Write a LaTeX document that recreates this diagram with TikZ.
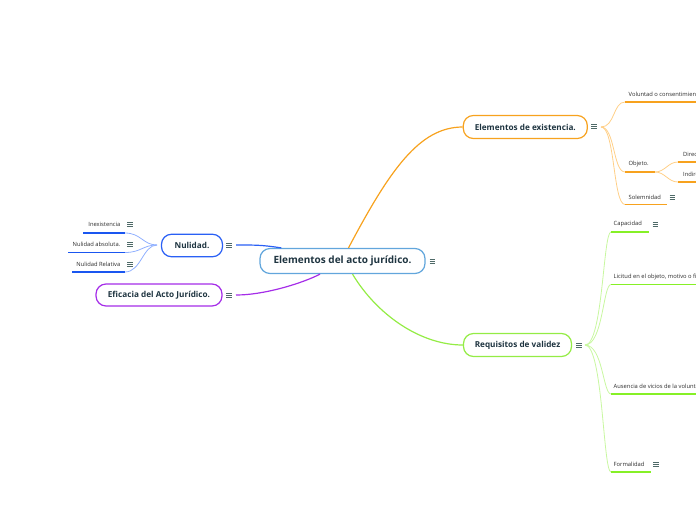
\documentclass[tikz,border=0pt]{standalone}
\usepackage{fontspec}
\setmainfont{Open Sans}
\definecolor{cText}{HTML}{1E3440}
\definecolor{cLeaf}{HTML}{2A2A2A}
\definecolor{cMenu}{HTML}{4F6A68}
\definecolor{cRoot}{HTML}{62A6DC}
\definecolor{cOr}{HTML}{F7A21E}
\definecolor{cOrL}{HTML}{FFCF87}
\definecolor{cGr}{HTML}{94EC45}
\definecolor{cGrU}{HTML}{86F026}
\definecolor{cGrL}{HTML}{C8F7A0}
\definecolor{cBl}{HTML}{2A60F5}
\definecolor{cBlU}{HTML}{1A56F0}
\definecolor{cBlL}{HTML}{90B0FF}
\definecolor{cPu}{HTML}{A52DE8}
\tikzset{
  mainbox/.style={draw, line width=1.2pt, fill=white, rounded corners=10pt, inner sep=0pt,
    minimum height=23pt, text=cText, font=\bfseries\fontsize{8.2}{10}\selectfont},
  menu/.style={inner sep=0pt, minimum width=5.6pt, minimum height=5pt,
    path picture={
      \draw[cMenu, line width=0.75pt]
        ([yshift=-0.45pt]path picture bounding box.north west) -- ([yshift=-0.45pt]path picture bounding box.north east)
        (path picture bounding box.west) -- (path picture bounding box.east)
        ([yshift=0.45pt]path picture bounding box.south west) -- ([yshift=0.45pt]path picture bounding box.south east);
    }},
  leaf/.style={font=\fontsize{5.8}{7}\selectfont, text=cLeaf, inner sep=0pt},
  ul/.style={line width=1.8pt},
  fan/.style={line width=0.8pt},
  mainline/.style={line width=1.2pt}
}
\begin{document}
\begin{tikzpicture}[x=1pt,y=-1pt]
\useasboundingbox (0,0) rectangle (696,520);
\clip (0,0) rectangle (696,520);

\node[mainbox, draw=cRoot, minimum width=165pt, minimum height=25pt,
      font=\bfseries\fontsize{10}{12}\selectfont] (root) at (342.5,261) {Elementos del acto jurídico.};
\node[menu] (rootm) at (432.5,261) {};

\node[mainbox, draw=cOr, minimum width=124pt] (exi) at (525.3,127) {Elementos de existencia.};
\node[menu] (exim) at (594,126.5) {};
\node[mainbox, draw=cGr, minimum width=108pt] (req) at (517.5,345) {Requisitos de validez};
\node[menu] (reqm) at (579,345) {};
\node[mainbox, draw=cBl, minimum width=61pt, minimum height=22.5pt] (nul) at (192,245.5) {Nulidad.};
\node[menu] (nulm) at (229,245) {};
\node[mainbox, draw=cPu, minimum width=126pt, minimum height=22pt] (efi) at (159,295) {Eficacia del Acto Jurídico.};
\node[menu] (efim) at (229,295) {};

\draw[mainline, cOr] ([xshift=6pt]root.north) .. controls +(41.5,-78.5) and +(-43,0) .. (exi.west);
\draw[mainline, cGr] ([xshift=10pt]root.south) .. controls +(24,40) and +(-43,0) .. (req.west);
\draw[mainline, cBl] ([xshift=4pt]nulm.east) .. controls +(20,0) and +(-20,-3) .. ([xshift=22pt]root.north west);
\draw[mainline, cPu] ([xshift=4pt]efim.east) .. controls +(30,0) and +(-15,8) .. ([xshift=-22.5pt]root.south);

% ---- Elementos de existencia: leaves
\coordinate (exo) at (601,127);
\node[leaf, anchor=west] (vol) at (628.5,94) {Voluntad o consentimiento};
\coordinate (vol-s) at (625,102); \coordinate (vol-e) at (700,102);
\node[leaf, anchor=west] (obj) at (628.5,164) {Objeto.};
\coordinate (obj-s) at (625,172); \coordinate (obj-e) at (655,172);
\node[leaf, anchor=west] (dir) at (683,154) {Directo};
\coordinate (dir-s) at (678,162); \coordinate (dir-e) at (700,162);
\node[leaf, anchor=west] (ind) at (683,174) {Indirecto};
\coordinate (ind-s) at (678,182); \coordinate (ind-e) at (700,182);
\node[leaf, anchor=west] (sol) at (628.5,197) {Solemnidad};
\node[menu] (solm) at (672.5,197) {};
\coordinate (sol-s) at (625,204.5); \coordinate (sol-e) at (667,204.5);

\foreach \a in {vol,obj,sol}{\draw[fan, cOrL] (exo) .. controls +(14,0) and +(-12,0) .. (\a-s);}
\foreach \a in {dir,ind}{\draw[fan, cOrL] (obj-e) .. controls +(10,0) and +(-10,0) .. (\a-s);}
\foreach \a in {vol,obj,dir,ind,sol}{\draw[ul, cOr] (\a-s) -- (\a-e);}

% ---- Requisitos de validez: leaves
\coordinate (rqo) at (585,345);
\node[leaf, anchor=west] (cap) at (613.5,224) {Capacidad};
\node[menu] (capm) at (655.5,224) {};
\coordinate (cap-s) at (611,232); \coordinate (cap-e) at (649,232);
\node[leaf, anchor=west] (lic) at (613.5,277) {Licitud en el objeto, motivo o fin};
\coordinate (lic-s) at (611,284.5); \coordinate (lic-e) at (700,284.5);
\node[leaf, anchor=west] (aus) at (613.5,386) {Ausencia de vicios de la voluntad};
\coordinate (aus-s) at (611,394); \coordinate (aus-e) at (700,394);
\node[leaf, anchor=west] (for) at (613.5,464) {Formalidad};
\node[menu] (form) at (656,464) {};
\coordinate (for-s) at (611,472); \coordinate (for-e) at (650.5,472);

\foreach \a in {cap,lic,aus,for}{\draw[fan, cGrL] (rqo) .. controls +(18,0) and +(-8,0) .. (\a-s);}
\foreach \a in {cap,lic,aus,for}{\draw[ul, cGrU] (\a-s) -- (\a-e);}

% ---- Nulidad: leaves
\coordinate (nlo) at (157,245);
\node[leaf, anchor=east] (inx) at (120.5,224.5) {Inexistencia};
\node[menu] (inxm) at (130,224.5) {};
\coordinate (inx-s) at (125,233); \coordinate (inx-e) at (83,233);
\node[leaf, anchor=east] (nab) at (120.5,244) {Nulidad absoluta.};
\node[menu] (nabm) at (130,244) {};
\coordinate (nab-s) at (125,252.5); \coordinate (nab-e) at (68,252.5);
\node[leaf, anchor=east] (nre) at (120.5,264) {Nulidad Relativa};
\node[menu] (nrem) at (130,264) {};
\coordinate (nre-s) at (125,272); \coordinate (nre-e) at (72,272);

\foreach \a in {inx,nab,nre}{\draw[fan, cBlL] (nlo) .. controls +(-14,0) and +(16,0) .. (\a-s);}
\foreach \a in {inx,nab,nre}{\draw[ul, cBlU] (\a-s) -- (\a-e);}
\end{tikzpicture}
\end{document}
